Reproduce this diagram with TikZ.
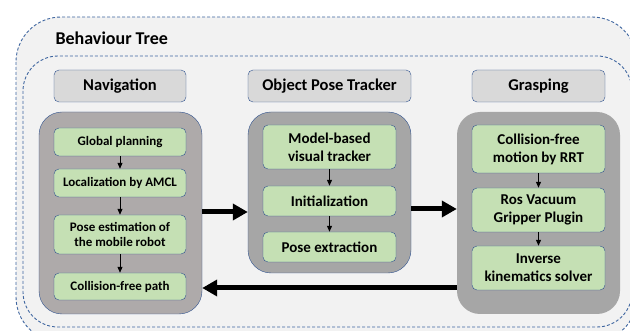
\documentclass[tikz,border=0pt]{standalone}
\usepackage{fontspec}
\setmainfont{Carlito}
\usetikzlibrary{arrows.meta}
\definecolor{bd}{HTML}{2F528F}
\definecolor{dashblue}{HTML}{3F66A0}
\definecolor{bgfill}{HTML}{F2F2F2}
\definecolor{hdrgray}{HTML}{D9D9D9}
\definecolor{navgray}{HTML}{AEAAAA}
\definecolor{boxgray}{HTML}{A6A6A6}
\definecolor{stepgreen}{HTML}{C5E0B4}

\begin{document}
\begin{tikzpicture}[x=1pt,y=-1pt,
    treeline/.style={draw=dashblue,line width=.9pt,dash pattern=on 3pt off 2pt},
    header/.style={draw=bd,fill=hdrgray,rounded corners=5,inner sep=0,minimum height=32,font=\fontsize{16.5}{19}\selectfont\bfseries},
    group/.style={rounded corners=23,inner sep=0,minimum width=163},
    stepbox/.style={draw=bd,fill=stepgreen,rounded corners=5,inner sep=0,align=center,minimum width=133},
    navtxt/.style={font=\fontsize{13}{15.5}\selectfont\bfseries},
    bigtxt/.style={font=\fontsize{15}{18}\selectfont\bfseries},
    small/.style={-{Triangle[length=6pt,width=5pt]},line width=1pt},
    bigarrow/.style={-{Triangle[length=15pt,width=16pt]},line width=5pt}]
  \useasboundingbox (0,0) rectangle (630,331);
  \draw[treeline,fill=bgfill,rounded corners=45] (16,17) rectangle (637,342);
  \draw[treeline,rounded corners=35] (23,56) rectangle (632,327);
  \node[anchor=base west,font=\fontsize{18}{21}\selectfont\bfseries] (title) at (52,45) {Behaviour Tree};

  \node[header,minimum width=132] (navhead) at (120,86) {Navigation};
  \node[header,minimum width=163] (objhead) at (329.5,86) {Object Pose Tracker};
  \node[header,minimum width=133] (grasphead) at (538.5,86) {Grasping};

  \node[group,draw=bd,fill=navgray,minimum height=202] (navbg) at (120.5,213) {};
  \node[group,draw=bd,fill=boxgray,minimum height=161] (objbg) at (329.5,192.5) {};
  \node[group,fill=boxgray,minimum height=202] (graspbg) at (538.5,213) {};

  \node[stepbox,navtxt,minimum width=132,minimum height=28] (nav1) at (120,142) {Global planning};
  \node[stepbox,navtxt,minimum width=132,minimum height=28] (nav2) at (120,183) {Localization by AMCL};
  \node[stepbox,navtxt,minimum width=132,minimum height=39] (nav3) at (120,234.5) {Pose estimation of\\the mobile robot};
  \node[stepbox,navtxt,minimum width=132,minimum height=27] (nav4) at (120,286.5) {Collision-free path};

  \node[stepbox,bigtxt,minimum height=44] (obj1) at (329.5,147) {Model-based\\visual tracker};
  \node[stepbox,bigtxt,minimum height=30] (obj2) at (329.5,201) {Initialization};
  \node[stepbox,bigtxt,minimum height=30] (obj3) at (329.5,247) {Pose extraction};

  \node[stepbox,bigtxt,minimum height=48] (grasp1) at (538.5,149) {Collision-free\\motion by RRT};
  \node[stepbox,bigtxt,minimum height=44] (grasp2) at (538.5,210) {Ros Vacuum\\Gripper Plugin};
  \node[stepbox,bigtxt,minimum height=44] (grasp3) at (538.5,268) {Inverse\\kinematics solver};

  \draw[small] (nav1) -- (nav2);
  \draw[small] (nav2) -- (nav3);
  \draw[small] (nav3) -- (nav4);
  \draw[small] (obj1) -- (obj2);
  \draw[small] (obj2) -- (obj3);
  \draw[small] (grasp1) -- (grasp2);
  \draw[small] (grasp2) -- (grasp3);

  \draw[bigarrow] (navbg.east |- 0,212) -- (objbg.west |- 0,212);
  \draw[bigarrow] (objbg.east |- 0,209) -- (graspbg.west |- 0,209);
  \draw[bigarrow] (graspbg.west |- 0,288) -- (navbg.east |- 0,288);
\end{tikzpicture}
\end{document}
